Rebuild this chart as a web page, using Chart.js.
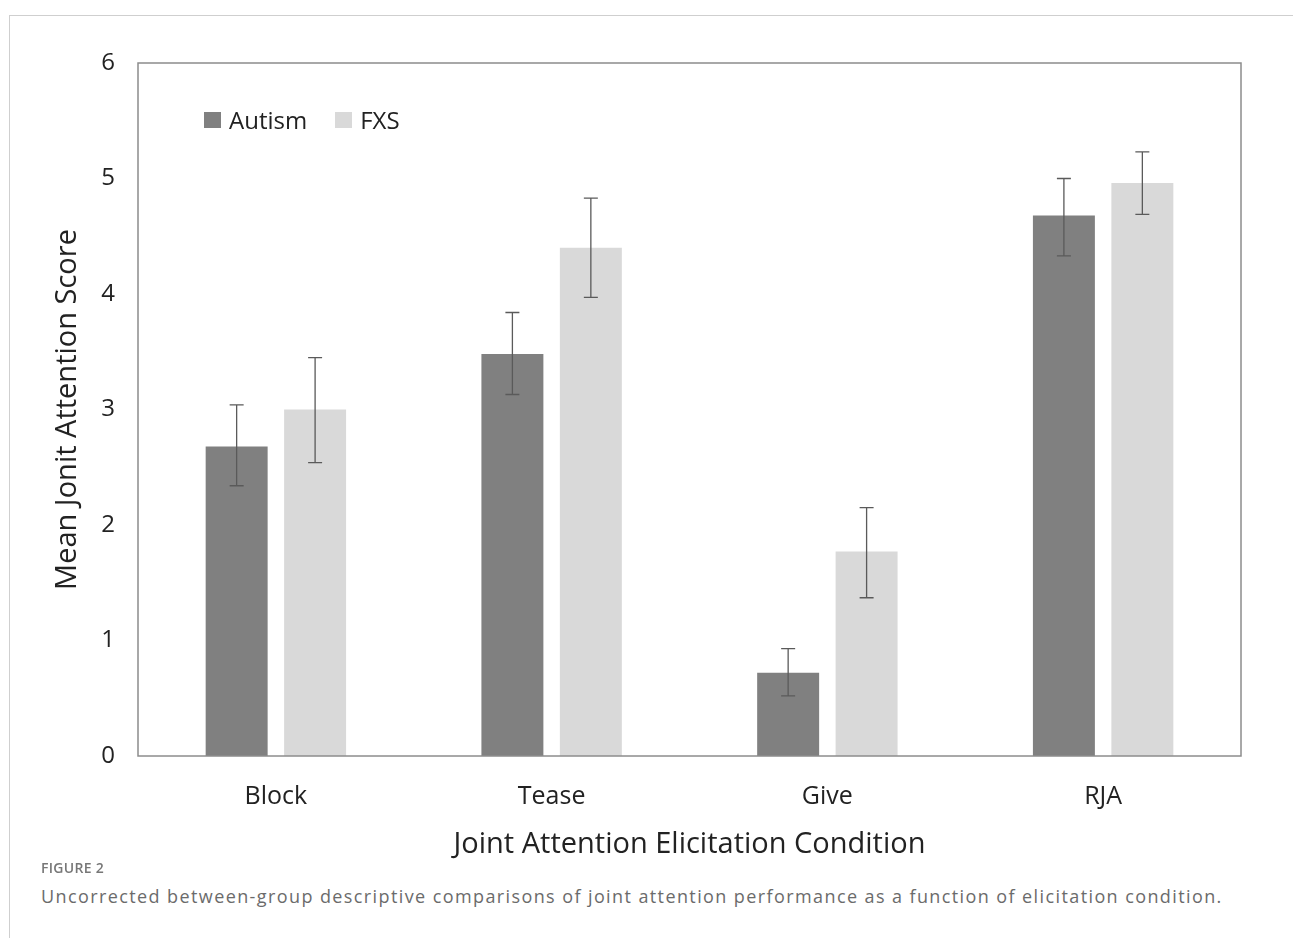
<!DOCTYPE html>
<html>
<head>
<meta charset="utf-8">
<script src="https://cdn.jsdelivr.net/npm/chart.js@4.4.1/dist/chart.umd.min.js"></script>
<style>
  body { margin: 0; background: #fff; width: 1293px; height: 938px; overflow: hidden; position: relative; }
  #frame { position: absolute; left: 9px; top: 15px; right: 0; bottom: 0; border-left: 1.5px solid #cfcfcf; border-top: 1.5px solid #cfcfcf; }
  #chartBox { position: absolute; left: 0; top: 0; width: 1293px; height: 864px; }
  #legend { position: absolute; left: 204px; top: 103px; font-family: "Open Sans", sans-serif; font-size: 24px; color: #222; display: flex; }
  #legend .item { display: flex; align-items: center; margin-right: 28px; }
  #legend .box { width: 17px; height: 16px; margin-right: 8px; }
  #figlabel { position: absolute; left: 41px; top: 858px; font-family: "Open Sans", sans-serif; font-weight: 600; font-size: 14px; letter-spacing: 0.3px; color: #777; }
  #caption { position: absolute; left: 41px; top: 884px; font-family: "Open Sans", sans-serif; font-size: 18px; letter-spacing: 1.4px; color: #6b6b6b; white-space: nowrap; }
</style>
</head>
<body>
<div id="frame"></div>
<div id="chartBox"><canvas id="myChart" width="1293" height="864"></canvas></div>
<div id="legend"></div>
<div id="figlabel">FIGURE 2</div>
<div id="caption">Uncorrected between-group descriptive comparisons of joint attention performance as a function of elicitation condition.</div>
<script>
// values
const conditions = ['Block', 'Tease', 'Give', 'RJA'];
const autismMeans = [2.68, 3.48, 0.72, 4.68];
const autismLow   = [2.34, 3.13, 0.52, 4.33];
const autismHigh  = [3.04, 3.84, 0.93, 5.00];
const fxsMeans = [3.00, 4.40, 1.77, 4.96];
const fxsLow   = [2.54, 3.97, 1.37, 4.69];
const fxsHigh  = [3.45, 4.83, 2.15, 5.23];
const yTicks = [0, 1, 2, 3, 4, 5, 6];

const errLow = [autismLow, fxsLow];
const errHigh = [autismHigh, fxsHigh];

// draws the error bars and the plot box
const errorBars = {
    id: 'errorBars',
    afterDatasetsDraw(chart) {
        const ctx = chart.ctx;
        const y = chart.scales.y;
        ctx.save();
        ctx.strokeStyle = '#5a5a5a';
        ctx.lineWidth = 1.3;
        chart.data.datasets.forEach((ds, di) => {
            const meta = chart.getDatasetMeta(di);
            meta.data.forEach((bar, i) => {
                const top = y.getPixelForValue(errHigh[di][i]);
                const bot = y.getPixelForValue(errLow[di][i]);
                ctx.beginPath();
                ctx.moveTo(bar.x, top); ctx.lineTo(bar.x, bot);
                ctx.moveTo(bar.x - 7, top); ctx.lineTo(bar.x + 7, top);
                ctx.moveTo(bar.x - 7, bot); ctx.lineTo(bar.x + 7, bot);
                ctx.stroke();
            });
        });
        const a = chart.chartArea;
        ctx.strokeStyle = '#8c8c8c';
        ctx.lineWidth = 1.5;
        ctx.strokeRect(a.left, a.top, a.right - a.left, a.bottom - a.top);
        ctx.restore();
    }
};

const ctx = document.getElementById('myChart').getContext('2d');
const myChart = new Chart(ctx, {
    type: 'bar',
    data: {
        labels: conditions,
        datasets: [{
            label: 'Autism',
            data: autismMeans,
            backgroundColor: '#808080'
        }, {
            label: 'FXS',
            data: fxsMeans,
            backgroundColor: '#d9d9d9'
        }]
    },
    options: {
        responsive: false,
        animation: false,
        categoryPercentage: 0.569,
        barPercentage: 0.79,
        layout: { padding: { left: 50, top: 63, right: 52, bottom: 0 } },
        plugins: {
            legend: { display: false },
            tooltip: { enabled: false }
        },
        scales: {
            x: {
                grid: { display: false },
                border: { display: false },
                ticks: { color: '#222', font: { family: 'Open Sans', size: 25 }, padding: 18 },
                title: { display: true, text: 'Joint Attention Elicitation Condition', color: '#222', font: { family: 'Open Sans', size: 29 }, padding: { top: 0, bottom: 2 } },
                afterFit(scale) { scale.height = 108; }
            },
            y: {
                min: 0, max: 6,
                afterBuildTicks(scale) { scale.ticks = yTicks.map(v => ({ value: v })); },
                grid: { display: false },
                border: { display: false },
                ticks: { color: '#222', font: { family: 'Open Sans', size: 24 }, padding: 15 },
                title: { display: true, text: 'Mean Jonit Attention Score', color: '#222', font: { family: 'Open Sans', size: 29 }, padding: { top: 0, bottom: 0 } },
                afterFit(scale) { scale.width = 88; }
            }
        }
    },
    plugins: [errorBars]
});

// legend built from the datasets
const legend = document.getElementById('legend');
myChart.data.datasets.forEach(ds => {
    const item = document.createElement('div');
    item.className = 'item';
    item.innerHTML = `<span class="box" style="background:` + ds.backgroundColor + `"></span><span>` + ds.label + `</span>`;
    legend.appendChild(item);
});
</script>
</body>
</html>
